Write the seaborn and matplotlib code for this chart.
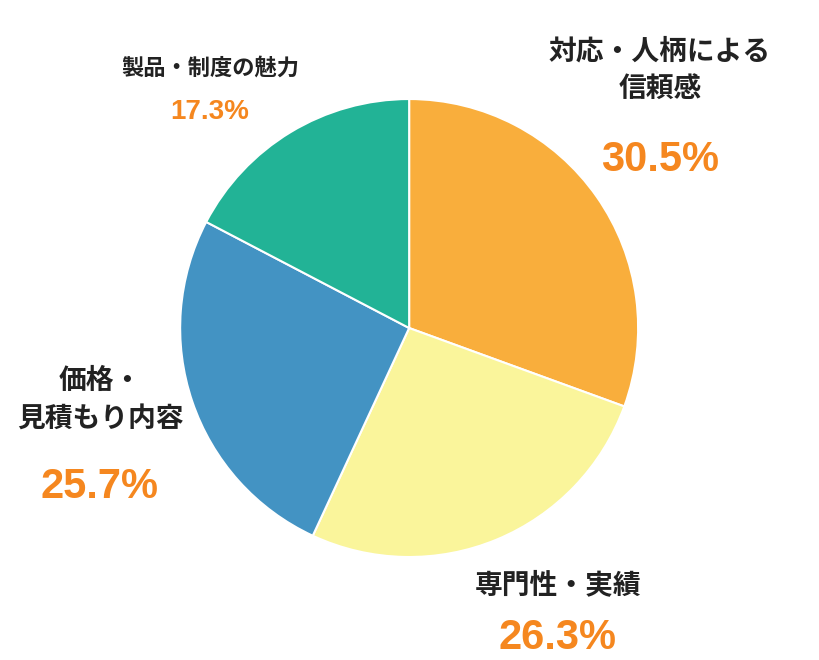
import matplotlib.pyplot as plt
import seaborn as sns

labels = ['対応・人柄による\n信頼感', '専門性・実績', '価格・\n見積もり内容', '製品・制度の魅力']
values = [30.5, 26.3, 25.7, 17.3]
colors = ['#F9AE3C', '#FAF59B', '#4393C3', '#22B396']

sns.set_theme(style='white')
plt.rcParams['font.family'] = ['Noto Sans CJK JP', 'DejaVu Sans']

fig = plt.figure(figsize=(8.2, 6.6), dpi=100)
ax = fig.add_axes([0.499 - 0.2793, 0.503 - 0.347, 0.5585, 0.694])
ax.pie(values, colors=colors, startangle=90, counterclock=False,
       wedgeprops=dict(edgecolor='white', linewidth=1.5))
ax.set_xlim(-1, 1)
ax.set_ylim(-1, 1)
ax.set_aspect('equal')

orange = '#F5871F'
# (label x, label y, pct y, label size, pct size) in pixels
spots = [(660, 70, 160, 20, 30),
         (558, 585, 638, 20, 30),
         (100, 400, 487, 20, 30),
         (210, 68, 112, 16, 20)]
for (x, y, py, ls, ps), lab, v in zip(spots, labels, values):
    fig.text(x / 820, 1 - y / 660, lab, ha='center', va='center',
             fontsize=ls, fontweight='bold', color='#222222', linespacing=1.45)
    fig.text(x / 820, 1 - py / 660, f'{v}%', ha='center', va='center',
             fontsize=ps, fontweight='bold', color=orange,
             family=['Liberation Sans', 'DejaVu Sans'])

fig.savefig('out.png', dpi=100)
